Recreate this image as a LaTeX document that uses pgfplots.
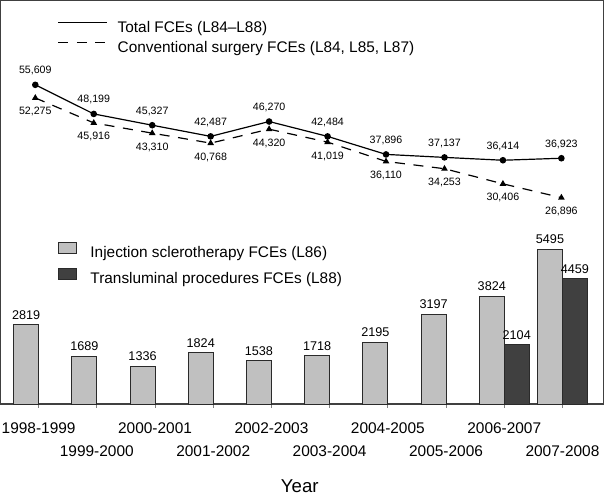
\documentclass[border=0pt]{standalone}
\usepackage{fontspec}
\setmainfont{Liberation Sans}
\usepackage{pgfplots}
\pgfplotsset{compat=1.18}
\definecolor{framegray}{HTML}{404040}
\definecolor{barlight}{HTML}{C0C0C0}
\definecolor{bardark}{HTML}{404040}
\definecolor{baredge}{HTML}{2A2A2A}

\pgfplotsset{/pgf/number format/assume math mode=true}

\begin{document}
\begin{tikzpicture}
\useasboundingbox (-0.5pt,0.5pt) rectangle (454pt,-371.25pt);

% bars (bottom part) -- also draws the frame and the year axis
\begin{axis}[
    at={(0pt,-303pt)}, anchor=south west,
    width=453pt, height=303pt, scale only axis,
    xmin=-0.6518, xmax=9.708, ymin=0, ymax=14352,
    axis line style={framegray, line width=0.9pt},
    ytick=\empty,
    xtick={0,2,4,6,8},
    xticklabels={1998-1999,2000-2001,2002-2003,2004-2005,2006-2007},
    extra x ticks={1,3,5,7,9},
    extra x tick labels={1999-2000,2001-2002,2003-2004,2005-2006,2007-2008},
    extra x tick style={xticklabel style={yshift=-17.6pt}},
    xtick pos=lower, tick align=outside, major tick length=3pt,
    tick style={gray, line width=0.6pt},
    xticklabel style={font=\fontsize{11.6}{13.9}\selectfont, anchor=north, yshift=-7.25pt},
    xlabel={Year},
    xlabel style={at={(axis description cs:0.496,0)}, anchor=base, yshift=-66.75pt,
        font=\fontsize{14}{16}\selectfont},
    ybar, bar width=18.75pt,
    legend image code/.code={\draw[#1] (0pt,0pt) rectangle (13.5pt,8pt);},
    nodes near coords,
    every node near coord/.append style={anchor=center, yshift=7.5pt,
        font=\fontsize{9.5}{11}\selectfont, black},
    /pgf/number format/fixed, /pgf/number format/1000 sep={},
    legend style={draw=none, fill=none, inner sep=0pt, outer sep=0pt,
        at={(axis description cs:0.0944,0.401)}, anchor=north west,
        column sep=10.5pt, row sep=6pt, nodes={inner sep=0pt},
        font=\fontsize{11.55}{13.8}\selectfont},
    legend cell align=left,
]
\addplot[fill=barlight, draw=baredge, line width=0.7pt, bar shift=-9.375pt]
coordinates {
    (0,2819) (1,1689) (2,1336) (3,1824) (4,1538)
    (5,1718) (6,2195) (7,3197) (8,3824) (9,5495)
};
\addplot[fill=bardark, draw=baredge, line width=0.7pt, bar shift=9.375pt]
coordinates {
    (8,2104) (9,4459)
};
\legend{Injection sclerotherapy FCEs (L86), Transluminal procedures FCEs (L88)}
\end{axis}

% lines (top part)
\begin{axis}[
    at={(0pt,-303pt)}, anchor=south west,
    width=453pt, height=303pt, scale only axis,
    xmin=-0.5927, xmax=9.7233, ymin=-25626, ymax=77030,
    axis lines=none, clip=false,
    /pgf/number format/fixed, /pgf/number format/1000 sep={,},
    legend style={draw=none, fill=none, inner sep=0pt, outer sep=0pt,
        at={(axis description cs:0.0944,0.9488)}, anchor=north west,
        column sep=7.5pt, row sep=5pt, nodes={inner sep=0pt},
        font=\fontsize{11.55}{13.8}\selectfont},
    legend cell align=left,
    legend image code/.code={\draw[#1] (0pt,4pt) -- (36.75pt,4pt);},
]
\addplot[black, line width=0.9pt, mark=*, mark size=2pt,
    nodes near coords,
    every node near coord/.append style={anchor=center, yshift=10.7pt,
        font=\fontsize{8}{9.5}\selectfont, black}]
coordinates {
    (0,55609) (1,48199) (2,45327) (3,42487) (4,46270)
    (5,42484) (6,37896) (7,37137) (8,36414) (9,36923)
};
\addplot[black, line width=0.9pt, dash pattern=on 7.5pt off 6.5pt,
    mark=triangle*, mark size=2pt, mark options={solid},
    nodes near coords,
    every node near coord/.append style={anchor=center, yshift=-10.5pt,
        font=\fontsize{8}{9.5}\selectfont, black}]
coordinates {
    (0,52275) (1,45916) (2,43310) (3,40768) (4,44320)
    (5,41019) (6,36110) (7,34253) (8,30406) (9,26896)
};
\legend{Total FCEs (L84--L88), {Conventional surgery FCEs (L84, L85, L87)}}
\end{axis}
\end{tikzpicture}
\end{document}
